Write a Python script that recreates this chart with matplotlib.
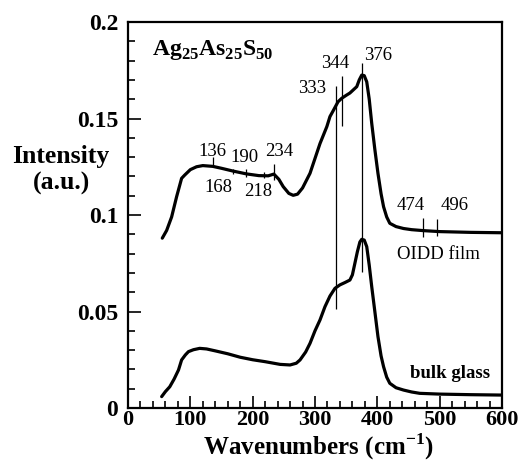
import matplotlib
matplotlib.use("Agg")
import matplotlib.pyplot as plt
from matplotlib.ticker import MultipleLocator

plt.rcParams['font.family'] = ['Liberation Serif', 'DejaVu Serif']
plt.rcParams['mathtext.fontset'] = 'custom'
plt.rcParams['mathtext.rm'] = 'Liberation Serif'
plt.rcParams['mathtext.bf'] = 'Liberation Serif:bold'

# OIDD film spectrum
film_x = [55, 62, 70, 78, 86, 91, 100, 110, 120, 136, 150, 168, 190, 210, 225, 234,
          242, 249, 258, 265, 272, 280, 292, 308, 319, 324, 330, 337, 343, 350, 356,
          362, 367, 371, 375, 379, 383, 387, 391, 396, 401, 406, 410, 415, 420, 430,
          442, 455, 474, 500, 550, 600]
film_y = [0.088, 0.092, 0.099, 0.1095, 0.119, 0.1207, 0.1235, 0.1250, 0.1256, 0.1252,
          0.1242, 0.1228, 0.1213, 0.1204, 0.1203, 0.1212, 0.1185, 0.1147, 0.1112, 0.1102,
          0.1108, 0.1140, 0.1216, 0.137, 0.1458, 0.151, 0.1545, 0.1587, 0.1605, 0.1620,
          0.1632, 0.1650, 0.1665, 0.1700, 0.1725, 0.1722, 0.1690, 0.160, 0.1475, 0.134,
          0.1216, 0.111, 0.1043, 0.099, 0.0957, 0.0940, 0.0930, 0.0924, 0.0919, 0.0914,
          0.0910, 0.0908]

# bulk glass spectrum
bulk_x = [54, 60, 67, 74, 81, 86, 92, 97, 105, 115, 126, 140, 160, 180, 200, 220, 244,
          260, 270, 276, 285, 292, 300, 308, 316, 324, 332, 340, 348, 356, 360, 364, 368,
          372, 375, 379, 383, 387, 391, 396, 401, 406, 410, 415, 420, 430, 442, 455, 468,
          500, 550, 600]
bulk_y = [0.0059, 0.0085, 0.011, 0.015, 0.0197, 0.0249, 0.0275, 0.0292, 0.0302, 0.0309,
          0.0306, 0.0296, 0.0281, 0.0263, 0.0250, 0.0240, 0.0226, 0.0223, 0.0232, 0.0249,
          0.029, 0.0335, 0.040, 0.0456, 0.0525, 0.058, 0.062, 0.0638, 0.0650, 0.0663,
          0.069, 0.075, 0.081, 0.086, 0.0874, 0.0870, 0.0836, 0.074, 0.0629, 0.050, 0.037,
          0.027, 0.0214, 0.016, 0.0128, 0.0105, 0.0093, 0.0083, 0.0076, 0.0072, 0.0069,
          0.0067]

# peak markers (position, lower end, upper end)
mark_x = [136, 168, 190, 218, 234, 333, 344, 376, 474, 496]
mark_lo = [0.1255, 0.1212, 0.1195, 0.1190, 0.1181, 0.0511, 0.146, 0.0706, 0.0886, 0.0889]
mark_hi = [0.1300, 0.1240, 0.1237, 0.1225, 0.1263, 0.1667, 0.172, 0.1786, 0.0984, 0.0980]

# peak labels (text, x, y)
lab_txt = ['136', '190', '234', '168', '218', '333', '344', '376', '474', '496']
lab_x = [135.6, 187, 242, 144.4, 208.6, 296, 332.6, 401, 453, 524]
lab_y = [0.1328, 0.1299, 0.1328, 0.1141, 0.1121, 0.1656, 0.1786, 0.1829, 0.1047, 0.1047]

xticks = [0, 100, 200, 300, 400, 500, 600]
yticks = [0, 0.05, 0.1, 0.15, 0.2]
ytick_labels = ['0', '0.05', '0.1', '0.15', '0.2']

fig = plt.figure(figsize=(5.22, 4.61), dpi=100)
ax = fig.add_axes([128 / 522, 53 / 461, 374 / 522, 386 / 461])

ax.plot(film_x, film_y, color='black', lw=2.3, solid_capstyle='round', solid_joinstyle='round')
ax.plot(bulk_x, bulk_y, color='black', lw=2.3, solid_capstyle='round', solid_joinstyle='round')
ax.vlines(mark_x, mark_lo, mark_hi, color='black', lw=0.9)

for t, x, y in zip(lab_txt, lab_x, lab_y):
    ax.text(x, y, t, ha='center', va='center', fontsize=13.5)

ax.text(38.5, 0.183, r"Ag$_{\mathbf{25}}$As$_{\mathbf{25}}$S$_{\mathbf{50}}$",
        fontsize=17, fontweight='bold', ha='left', va='baseline')
ax.text(497.5, 0.0793, 'OIDD film', ha='center', va='center', fontsize=13.5)
ax.text(516.6, 0.018, 'bulk glass', ha='center', va='center', fontsize=13.5, fontweight='bold')

ax.set_xlim(0, 600)
ax.set_ylim(0, 0.2)
ax.set_xticks(xticks)
ax.set_yticks(yticks)
ax.set_yticklabels(ytick_labels)
ax.xaxis.set_minor_locator(MultipleLocator(20))
ax.yaxis.set_minor_locator(MultipleLocator(0.01))
ax.tick_params(which='both', direction='in', top=False, right=False, width=1.2)
ax.tick_params(which='major', length=9)
ax.tick_params(which='minor', length=5)
ax.tick_params(axis='x', pad=1.5)
ax.tick_params(axis='y', pad=7)
for lab in ax.get_xticklabels():
    lab.set_fontsize(16)
    lab.set_fontweight('bold')
for lab in ax.get_yticklabels():
    lab.set_fontsize(17)
    lab.set_fontweight('bold')
for sp in ax.spines.values():
    sp.set_linewidth(1.6)

fig.text(61 / 522, 1 - 157 / 461, 'Intensity', ha='center', va='center', fontsize=18.5, fontweight='bold')
fig.text(61 / 522, 1 - 183 / 461, '(a.u.)', ha='center', va='center', fontsize=18.5, fontweight='bold')
fig.text(318 / 522, 1 - 431 / 461, r'Wavenumbers (cm$^{\mathbf{-1}}$)', ha='center', va='top',
         fontsize=18, fontweight='bold')

fig.savefig('out.png', dpi=100)
